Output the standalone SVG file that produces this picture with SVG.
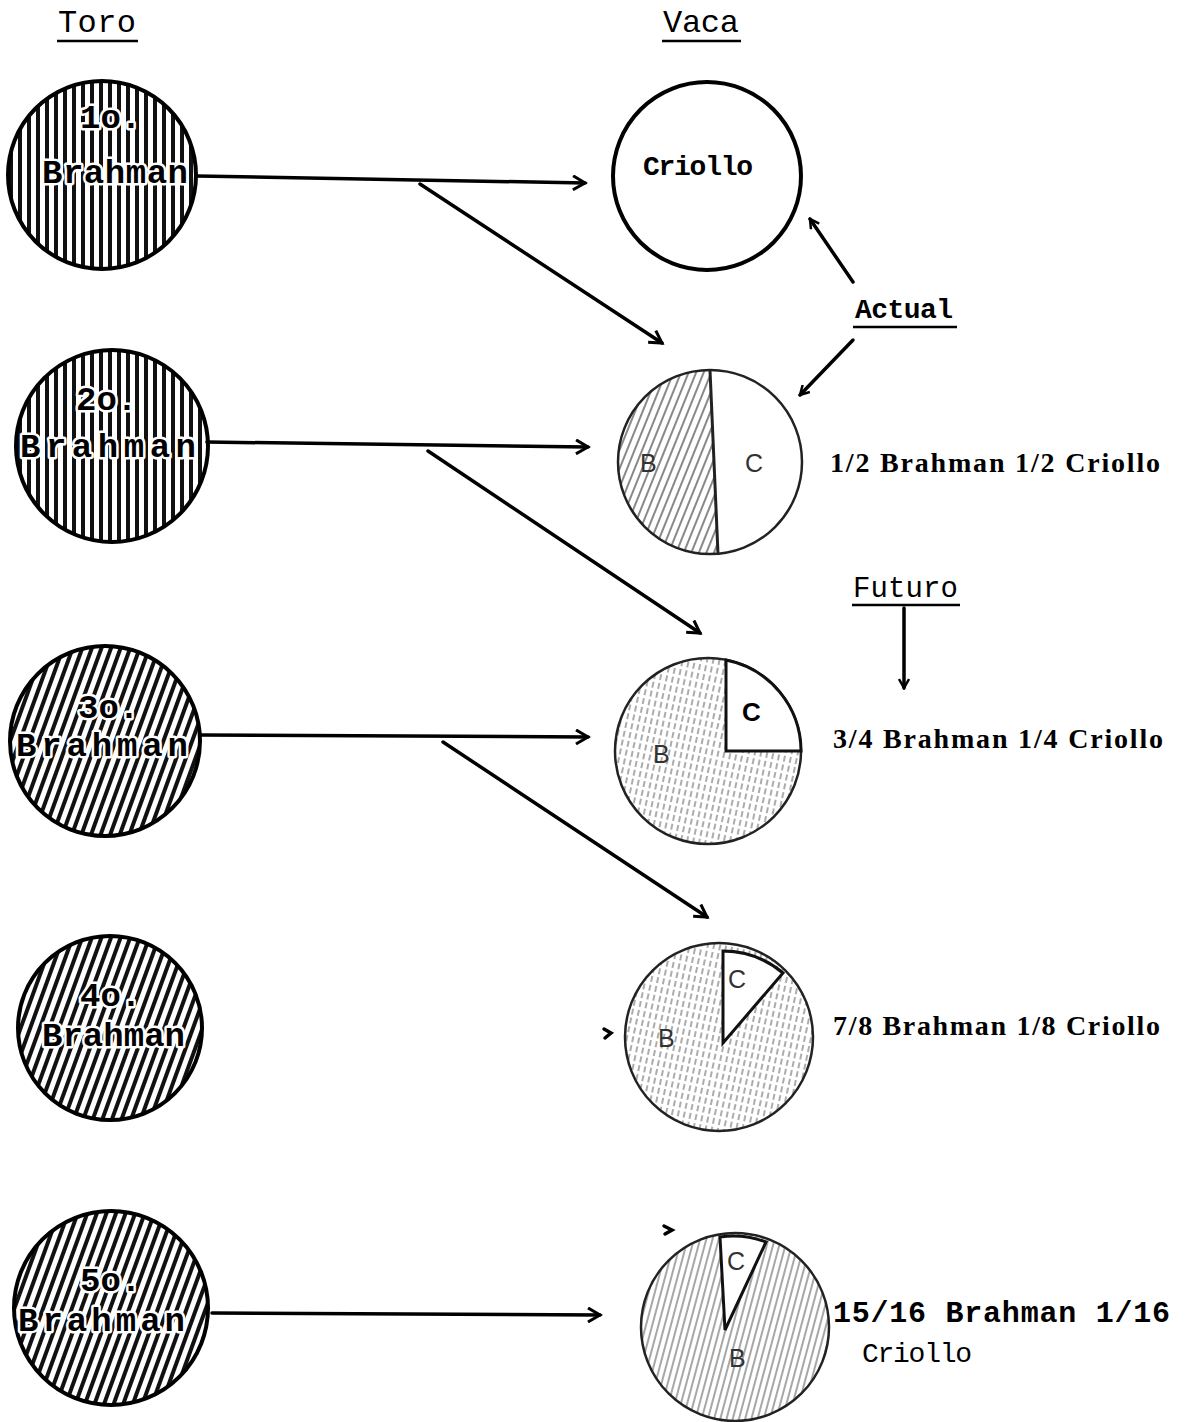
<svg xmlns="http://www.w3.org/2000/svg" width="1193" height="1422" viewBox="0 0 1193 1422">
<style>
.bull{stroke:#000;stroke-width:4}
.cow{stroke:#222;stroke-width:2.5}
.bt{font-family:"Liberation Mono",monospace;font-weight:bold;font-size:34px;fill:#000;stroke:#fff;stroke-width:5;paint-order:stroke;stroke-linejoin:round}
.head{font-family:"Liberation Mono",monospace;font-size:32px;fill:#000}
.lab{font-family:"Liberation Serif",serif;font-weight:bold;font-size:28px;fill:#000}
.bc{font-family:"Liberation Sans",sans-serif;font-size:25px;fill:#333}
.conn{fill:none;stroke:#000;stroke-width:3.5;stroke-linecap:round}
.ul{stroke:#000;stroke-width:2.5}
</style>
<defs>
<pattern id="hv" width="9" height="9" patternUnits="userSpaceOnUse"><rect x="0" y="0" width="4" height="9" fill="#111"/></pattern>
<pattern id="hs" width="9" height="9" patternUnits="userSpaceOnUse" patternTransform="rotate(20)"><rect x="0" y="0" width="4" height="9" fill="#111"/></pattern>
<pattern id="cs" width="7" height="7" patternUnits="userSpaceOnUse" patternTransform="rotate(22)"><line x1="1" y1="0" x2="1" y2="7" stroke="#555" stroke-width="1.4"/></pattern>
<pattern id="cv" width="6" height="9" patternUnits="userSpaceOnUse" patternTransform="rotate(12)"><line x1="1" y1="0" x2="1" y2="6" stroke="#888" stroke-width="1.4"/></pattern>
<pattern id="cd" width="6" height="6" patternUnits="userSpaceOnUse" patternTransform="rotate(15)"><line x1="1" y1="0" x2="1" y2="6" stroke="#777" stroke-width="1.3"/></pattern>
<clipPath id="clipHalf"><circle cx="710" cy="462" r="92"/></clipPath>
<marker id="ah" viewBox="0 0 12 12" refX="10" refY="6" markerWidth="12" markerHeight="12" markerUnits="userSpaceOnUse" orient="auto"><path d="M1,1 L10,6 L1,11" fill="none" stroke="#000" stroke-width="2.5"/></marker>
<marker id="ah2" viewBox="0 0 16 16" refX="13" refY="8" markerWidth="16" markerHeight="16" markerUnits="userSpaceOnUse" orient="auto"><path d="M1,1 L13,8 L1,15" fill="none" stroke="#000" stroke-width="3"/></marker>
</defs>
<rect width="1193" height="1422" fill="#fff"/>

<g id="headers">
<text class="head" x="58" y="32" textLength="78">Toro</text>
<line class="ul" x1="57" y1="41" x2="138" y2="41"/>
<text class="head" x="663" y="32" textLength="76">Vaca</text>
<line class="ul" x1="662" y1="41" x2="741" y2="41"/>
</g>

<g id="bull1">
<circle class="bull" cx="102" cy="175" r="94" fill="url(#hv)"/>
<text class="bt" x="80" y="128">1o.</text>
<text class="bt" x="42" y="183" textLength="146" font-size="32">Brahman</text>
</g>
<g id="bull2">
<circle class="bull" cx="112" cy="446" r="96" fill="url(#hv)"/>
<text class="bt" x="76" y="410">2o.</text>
<text class="bt" x="20" y="457" textLength="176" font-size="37">Brahman</text>
</g>
<g id="bull3">
<circle class="bull" cx="105" cy="741" r="95" fill="url(#hs)"/>
<text class="bt" x="78" y="718">3o.</text>
<text class="bt" x="16" y="756" textLength="172" font-size="37">Brahman</text>
</g>
<g id="bull4">
<circle class="bull" cx="110" cy="1028" r="92" fill="url(#hs)"/>
<text class="bt" x="80" y="1006">4o.</text>
<text class="bt" x="42" y="1046" textLength="143" font-size="32">Brahman</text>
</g>
<g id="bull5">
<circle class="bull" cx="111" cy="1308" r="97" fill="url(#hs)"/>
<text class="bt" x="80" y="1291">5o.</text>
<text class="bt" x="18" y="1331" textLength="167" font-size="36">Brahman</text>
</g>

<g id="cow-criollo">
<circle cx="707" cy="176" r="94" fill="#fff" stroke="#000" stroke-width="4"/>
<text x="643" y="175" font-family="Liberation Mono, monospace" font-weight="bold" font-size="28" textLength="110">Criollo</text>
</g>

<g id="cow-half">
<circle cx="710" cy="462" r="92" fill="#fff"/>
<polygon points="600,360 710,370 718,556 600,560" fill="url(#cs)" clip-path="url(#clipHalf)"/>
<circle class="cow" cx="710" cy="462" r="92" fill="none"/>
<line x1="710" y1="370" x2="718" y2="554" stroke="#222" stroke-width="3"/>
<text class="bc" x="640" y="472">B</text>
<text class="bc" x="745" y="472">C</text>
<text class="lab" x="830" y="472" textLength="330">1/2 Brahman 1/2 Criollo</text>
</g>

<g id="cow-three-quarter">
<circle class="cow" cx="708" cy="751" r="93" fill="url(#cv)"/>
<path d="M726,751 L726,660 A93,93 0 0 1 801,751 Z" fill="#fff" stroke="#111" stroke-width="3"/>
<text x="742" y="721" font-family="Liberation Sans, sans-serif" font-weight="bold" font-size="26" fill="#000">C</text>
<text class="bc" x="653" y="763">B</text>
<text class="lab" x="833" y="748" textLength="330">3/4 Brahman 1/4 Criollo</text>
</g>

<g id="cow-seven-eighth">
<circle class="cow" cx="719" cy="1037" r="94" fill="url(#cv)"/>
<path d="M723,1043 L723,951 A94,94 0 0 1 783,973 Z" fill="#fff" stroke="#111" stroke-width="3"/>
<text class="bc" x="728" y="988">C</text>
<text class="bc" x="658" y="1047">B</text>
<text class="lab" x="833" y="1035" textLength="327">7/8 Brahman 1/8 Criollo</text>
</g>

<g id="cow-fifteen-sixteenth">
<circle class="cow" cx="735" cy="1327" r="94" fill="url(#cd)"/>
<path d="M725,1330 L720,1237 A94,94 0 0 1 766,1242 Z" fill="#fff" stroke="#111" stroke-width="3"/>
<text class="bc" x="727" y="1270">C</text>
<text class="bc" x="729" y="1367">B</text>
<text x="833" y="1322" font-family="Liberation Mono, monospace" font-weight="bold" font-size="30" textLength="337">15/16 Brahman 1/16</text>
<text x="862" y="1362" font-family="Liberation Mono, monospace" font-size="28" textLength="110">Criollo</text>
</g>

<g id="label-actual">
<text x="855" y="318" font-family="Liberation Mono, monospace" font-weight="bold" font-size="28" textLength="98">Actual</text>
<line class="ul" x1="853" y1="327" x2="957" y2="327"/>
</g>
<g id="label-futuro">
<text x="853" y="597" font-family="Liberation Mono, monospace" font-size="29" textLength="105">Futuro</text>
<line class="ul" x1="852" y1="605" x2="960" y2="605"/>
</g>

<g id="connectors">
<path class="conn" d="M197,176 L585,183" marker-end="url(#ah2)"/>
<path class="conn" d="M420,184 L662,343" marker-end="url(#ah2)"/>
<path class="conn" d="M207,442 L588,447" marker-end="url(#ah2)"/>
<path class="conn" d="M428,451 L700,633" marker-end="url(#ah2)"/>
<path class="conn" d="M200,735 L588,737" marker-end="url(#ah2)"/>
<path class="conn" d="M443,742 L707,917" marker-end="url(#ah2)"/>
<path class="conn" d="M212,1313 L600,1315" marker-end="url(#ah2)"/>
<path class="conn" d="M853,282 L810,219" marker-end="url(#ah)"/>
<path class="conn" d="M853,340 L800,395" marker-end="url(#ah)"/>
<path class="conn" d="M904,608 L904,688" stroke-width="2" marker-end="url(#ah)"/>
<path class="conn" d="M604,1029 L611,1033 L605,1038" stroke-width="2.5"/>
<path class="conn" d="M664,1226 L672,1230 L665,1234" stroke-width="2.5"/>
</g>
</svg>
